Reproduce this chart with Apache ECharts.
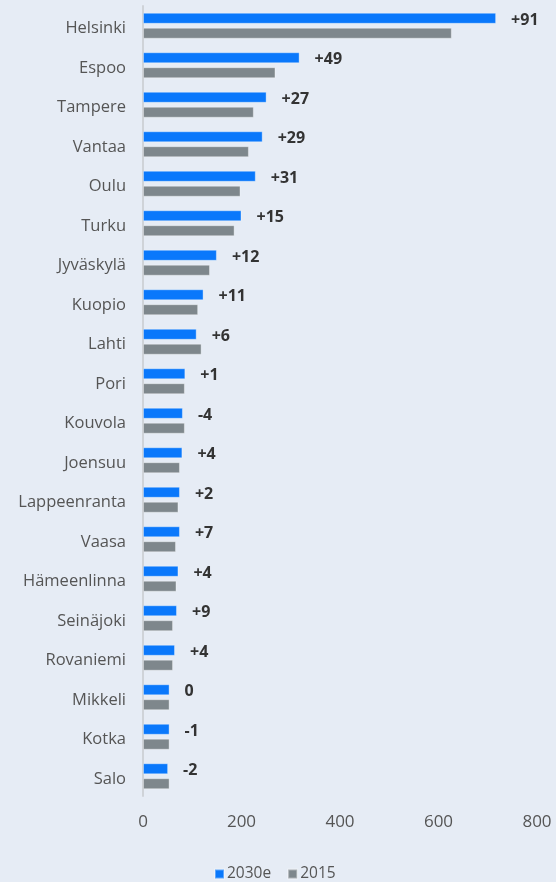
<!DOCTYPE html>
<html>
<head>
<meta charset="utf-8">
<script src="https://cdn.jsdelivr.net/npm/echarts@6/dist/echarts.min.js"></script>
<style>
html,body{margin:0;padding:0;background:#e6ecf5;}
#c{width:556px;height:882px;}
</style>
</head>
<body>
<div id="c"></div>
<script>
const cities = ["Helsinki","Espoo","Tampere","Vantaa","Oulu","Turku","Jyväskylä","Kuopio","Lahti","Pori","Kouvola","Joensuu","Lappeenranta","Vaasa","Hämeenlinna","Seinäjoki","Rovaniemi","Mikkeli","Kotka","Salo"];
const values2030 = [717,318,251,243,229,200,150,123,109,86,81,80,75,75,72,69,65,54,54,51];
const values2015 = [627,269,225,215,198,186,136,112,119,85,85,75,72,67,68,61,61,54,54,54];
const changeLabels = ["+91","+49","+27","+29","+31","+15","+12","+11","+6","+1","-4","+4","+2","+7","+4","+9","+4","0","-1","-2"];
const xTicks = {min:0, max:800, interval:200};

const FONT = '"Open Sans", Lato, sans-serif';
const chart = echarts.init(document.getElementById('c'));
chart.setOption({
  backgroundColor:'#e6ecf5',
  animation:false,
  textStyle:{fontFamily:FONT},
  grid:{left:143,right:19,top:6,bottom:86,containLabel:false},
  legend:{
    bottom:-5,left:209,itemWidth:9,itemHeight:9,itemGap:16,icon:'rect',
    textStyle:{fontFamily:FONT,fontSize:15.5,color:'#555',padding:[0,0,0,-2]},
    data:['2030e','2015']
  },
  xAxis:{
    type:'value',min:xTicks.min,max:xTicks.max,interval:xTicks.interval,
    axisLine:{show:false},axisTick:{show:false},splitLine:{show:false},
    axisLabel:{color:'#555',fontSize:17,margin:18,fontFamily:FONT}
  },
  yAxis:{
    type:'category',inverse:true,data:cities,
    axisLine:{show:true,lineStyle:{color:'#cfd3d8',width:2}},
    axisTick:{show:false},
    axisLabel:{margin:17,
      formatter:v=>'{a|'+v+'}',
      rich:{a:{color:'#555',fontSize:16.5,fontFamily:FONT,padding:[6,0,0,0]}}}
  },
  series:[
    {name:'2030e',type:'bar',data:values2030,barWidth:11,barGap:'36%',
     itemStyle:{color:'#0a78fb',borderColor:'rgba(255,255,255,0.35)',borderWidth:1},
     label:{show:true,position:'right',distance:15,fontFamily:FONT,fontWeight:'bold',fontSize:16,color:'#333',
       offset:[0,2],
       formatter:p=>changeLabels[p.dataIndex]}},
    {name:'2015',type:'bar',data:values2015,barWidth:11,
     itemStyle:{color:'#7e878c',borderColor:'rgba(255,255,255,0.35)',borderWidth:1}}
  ]
});
</script>
</body>
</html>
